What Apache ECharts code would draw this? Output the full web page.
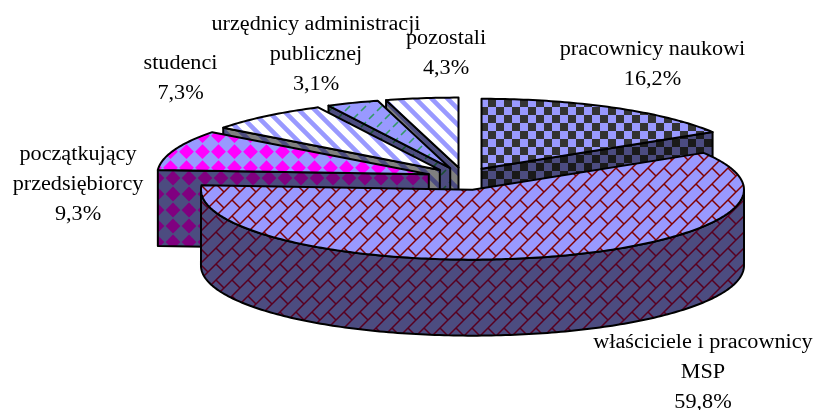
<!DOCTYPE html>
<html><head><meta charset="utf-8">
<style>html,body{margin:0;padding:0;background:#fff}#c{width:813px;height:410px}</style>
<script src="https://cdn.jsdelivr.net/npm/echarts@6/dist/echarts.min.js"></script>
</head><body><div id="c"></div>
<script>
// data, clockwise from 12 o'clock
const categories = ['pracownicy naukowi','właściciele i pracownicy\nMSP','początkujący\nprzedsiębiorcy','studenci','urzędnicy administracji\npublicznej','pozostali'];
const shares = [16.2,59.8,9.3,7.3,3.1,4.3];
// painter's order (back to front)
const paintOrder = [5,4,3,2,0,1];
const labelCentres = [[652.5,65],[703,373],[78,185],[180.5,79],[316,55],[446,54]];
const patterns = ['checks','bricks','diamonds','stripes','dashes','stripes'];

const geo = {cx:463.5, cy:178, rx:271.5, ry:70, depth:76, ex:37, eyBack:10.5, eyFront:12};

function tile(draw){
  const c=document.createElement('canvas');c.width=c.height=16;
  const g=c.getContext('2d');draw(g);return {image:c,repeat:'repeat'};
}
const LAV='#9999ff', LAVD='#4c4c80';
const makers={
  checks:(bg,fg)=>tile(g=>{g.fillStyle=bg;g.fillRect(0,0,16,16);g.fillStyle=fg;g.fillRect(8,3,8,8);g.fillRect(0,11,8,8);g.fillRect(0,-5,8,8);}),
  diamonds:(bg,fg,px,py)=>tile(g=>{g.fillStyle=bg;g.fillRect(0,0,16,16);g.fillStyle=fg;
    const h=7.4;
    [-16,0,16].forEach(dx=>[-16,0,16].forEach(dy=>{const x=px+dx,y=py+dy;g.beginPath();g.moveTo(x-h,y);g.lineTo(x,y-h);g.lineTo(x+h,y);g.lineTo(x,y+h);g.closePath();g.fill();}));}),
  bricks:(bg,fg)=>tile(g=>{g.fillStyle=bg;g.fillRect(0,0,16,16);g.strokeStyle=fg;g.lineWidth=1.5;
    g.beginPath();g.moveTo(-2,18);g.lineTo(18,-2);g.moveTo(-2,2);g.lineTo(2,-2);g.moveTo(14,18);g.lineTo(18,14);g.moveTo(8,8);g.lineTo(16,16);g.stroke();}),
  stripes:(bg,fg)=>tile(g=>{g.fillStyle=bg;g.fillRect(0,0,16,16);g.strokeStyle=fg;g.lineWidth=4.6;
    g.beginPath();[-19,-3,13,29].forEach(k=>{g.moveTo(-4+k,-4);g.lineTo(24+k,24);});g.stroke();}),
  dashes:(bg,fg)=>tile(g=>{g.fillStyle=bg;g.fillRect(0,0,16,16);g.strokeStyle=fg;g.lineWidth=1.6;
    g.beginPath();g.moveTo(1,7);g.lineTo(6,2);g.moveTo(9,15);g.lineTo(14,10);g.stroke();})
};
const skins={
  checks:{top:makers.checks(LAV,'#333333'),side:makers.checks(LAVD,'#1a1a1a')},
  bricks:{top:makers.bricks(LAV,'#800000'),side:makers.bricks(LAVD,'#580020')},
  diamonds:{top:makers.diamonds(LAV,'#ff00ff',10.5,7.7),side:makers.diamonds(LAVD,'#800080',13,2)},
  stripes:{top:makers.stripes('#ffffff',LAV),side:makers.stripes('#808080',LAVD)},
  dashes:{top:makers.dashes(LAV,'#339966'),side:makers.dashes(LAVD,'#1a4d33')}
};
const total=shares.reduce((a,b)=>a+b,0);
const rad=d=>d*Math.PI/180;

function renderItem(params,api){
  const i=params.dataIndex, val=api.value(0);
  let start=0;for(let k=0;k<i;k++)start+=shares[k]/total*360;
  const end=start+val/total*360, mid=(start+end)/2;
  const cm=Math.cos(rad(mid));
  const ax=geo.cx+geo.ex*Math.sin(rad(mid)), ay=geo.cy-(cm>0?geo.eyBack:geo.eyFront)*cm;
  const pt=d=>[ax+geo.rx*Math.sin(rad(d)),ay-geo.ry*Math.cos(rad(d))];
  const down=p=>[p[0],p[1]+geo.depth];
  const arc=(a,b)=>{const o=[];const n=Math.max(2,Math.ceil(b-a));for(let k=0;k<=n;k++)o.push(pt(a+(b-a)*k/n));return o;};
  const skin=skins[patterns[i]];
  const z=paintOrder.indexOf(i)*10+1;
  const line={stroke:'#000',lineWidth:2,lineJoin:'round'};
  const kids=[];
  const poly=(points,fill,zz)=>kids.push({type:'polygon',z2:zz,shape:{points},style:Object.assign({fill},line)});
  const apex=[ax,ay];
  if(Math.sin(rad(start))<-1e-6){const p=pt(start);poly([apex,p,down(p),down(apex)],skin.side,z);}
  if(Math.sin(rad(end))>1e-6){const p=pt(end);poly([apex,p,down(p),down(apex)],skin.side,z);}
  const a=Math.max(start,90), b=Math.min(end,270);
  if(b>a){const r=arc(a,b);poly(r.concat(r.slice().reverse().map(down)),skin.side,z+1);}
  poly([apex].concat(arc(start,end)),skin.top,z+2);
  const c=labelCentres[i];
  kids.push({type:'text',z2:100,x:c[0],y:c[1],scaleX:1.11,style:{
    text:categories[i]+'\n'+val.toFixed(1).replace('.',',')+'%',
    x:0,y:0,align:'center',verticalAlign:'middle',
    font:'20px "Liberation Serif"',lineHeight:30,fill:'#000'}});
  return {type:'group',children:kids};
}
const chart=echarts.init(document.getElementById('c'),null,{renderer:'canvas'});
chart.setOption({
  animation:false,backgroundColor:'#fff',
  series:[{type:'custom',coordinateSystem:'none',renderItem,silent:true,
    data:shares.map((v,i)=>({name:categories[i].replace('\n',' '),value:[v]}))}]
});
</script></body></html>
